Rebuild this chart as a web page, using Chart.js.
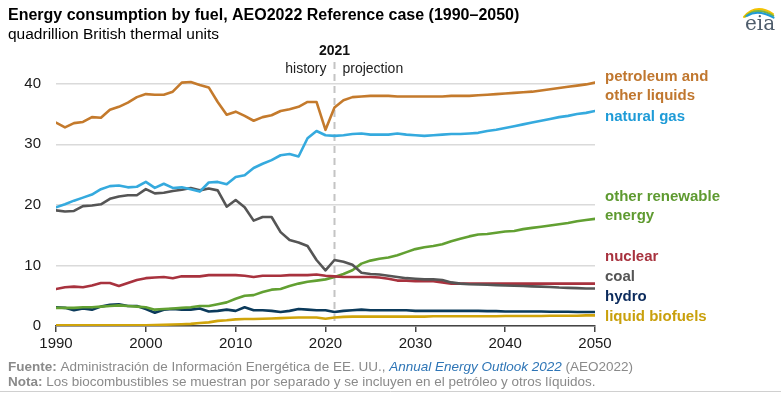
<!DOCTYPE html>
<html><head><meta charset="utf-8">
<script src="https://cdn.jsdelivr.net/npm/chart.js@4/dist/chart.umd.min.js"></script>
<style>html,body{margin:0;padding:0;background:#fff;}#wrap{position:relative;width:781px;height:393px;}</style>
</head><body><div id="wrap"><canvas id="c" width="781" height="393"></canvas></div>
<script>
const years = [1990,1991,1992,1993,1994,1995,1996,1997,1998,1999,2000,2001,2002,2003,2004,2005,2006,2007,2008,2009,2010,2011,2012,2013,2014,2015,2016,2017,2018,2019,2020,2021,2022,2023,2024,2025,2026,2027,2028,2029,2030,2031,2032,2033,2034,2035,2036,2037,2038,2039,2040,2041,2042,2043,2044,2045,2046,2047,2048,2049,2050];
const xTicks = [1990,2000,2010,2020,2030,2040,2050];
const yTicks = [0,10,20,30,40];
const petroleum = [33.6,32.8,33.5,33.7,34.5,34.4,35.7,36.2,36.9,37.8,38.3,38.2,38.2,38.7,40.2,40.3,39.8,39.4,37.0,34.9,35.4,34.7,33.9,34.5,34.8,35.5,35.8,36.2,37.0,37.0,32.4,36.1,37.3,37.8,37.9,38.0,38.0,38.0,37.9,37.9,37.9,37.9,37.9,37.9,38.0,38.0,38.0,38.1,38.2,38.3,38.4,38.5,38.6,38.7,38.9,39.1,39.3,39.5,39.7,39.9,40.2];
const naturalGas = [19.6,20.1,20.7,21.2,21.7,22.6,23.1,23.2,22.9,23.0,23.8,22.8,23.5,22.8,22.9,22.6,22.2,23.7,23.8,23.4,24.6,24.9,26.1,26.8,27.4,28.2,28.4,28.0,31.0,32.2,31.5,31.4,31.5,31.7,31.8,31.6,31.6,31.6,31.8,31.6,31.5,31.4,31.5,31.6,31.7,31.7,31.8,31.9,32.2,32.4,32.7,33.0,33.3,33.6,33.9,34.2,34.5,34.7,35.0,35.2,35.5];
const coal = [19.1,18.9,19.0,19.8,19.9,20.1,21.0,21.4,21.6,21.6,22.6,21.9,22.0,22.3,22.5,22.8,22.4,22.7,22.4,19.7,20.8,19.6,17.4,18.0,18.0,15.5,14.2,13.8,13.2,10.9,9.2,10.9,10.6,10.1,8.8,8.6,8.5,8.3,8.1,7.9,7.8,7.7,7.7,7.6,7.2,7.0,6.9,6.85,6.8,6.75,6.7,6.65,6.6,6.55,6.5,6.45,6.35,6.3,6.25,6.2,6.2];
const nuclear = [6.1,6.4,6.5,6.4,6.7,7.1,7.1,6.6,7.1,7.6,7.9,8.0,8.1,7.9,8.2,8.2,8.2,8.4,8.4,8.4,8.4,8.3,8.1,8.3,8.3,8.3,8.4,8.4,8.4,8.5,8.3,8.2,8.1,8.1,8.1,8.1,8.0,7.8,7.5,7.5,7.4,7.4,7.4,7.2,7.0,7.0,7.0,7.0,7.0,7.0,7.0,7.0,7.0,7.0,7.0,7.0,7.0,7.0,7.0,7.0,7.0];
const renewables = [3.0,3.0,3.0,3.1,3.1,3.2,3.3,3.4,3.3,3.2,3.1,2.7,2.8,2.9,3.0,3.1,3.3,3.3,3.6,3.9,4.5,5.0,5.1,5.6,6.0,6.1,6.6,7.0,7.3,7.5,7.7,8.1,8.6,9.2,10.3,10.8,11.1,11.3,11.7,12.2,12.7,13.0,13.2,13.5,14.0,14.4,14.8,15.1,15.2,15.4,15.6,15.7,16.0,16.2,16.4,16.6,16.8,17.0,17.3,17.5,17.7];
const hydro = [3.1,3.0,2.6,2.9,2.7,3.2,3.5,3.6,3.3,3.3,2.8,2.2,2.7,2.8,2.7,2.7,2.9,2.4,2.5,2.7,2.5,3.1,2.6,2.6,2.5,2.3,2.5,2.8,2.7,2.6,2.6,2.3,2.5,2.6,2.7,2.6,2.6,2.6,2.6,2.6,2.5,2.5,2.5,2.5,2.5,2.5,2.5,2.5,2.45,2.45,2.4,2.4,2.4,2.4,2.4,2.35,2.35,2.35,2.3,2.3,2.3];
const biofuels = [0.1,0.1,0.1,0.1,0.1,0.1,0.1,0.1,0.1,0.1,0.1,0.15,0.2,0.25,0.3,0.35,0.5,0.6,0.85,0.95,1.1,1.15,1.15,1.2,1.25,1.3,1.35,1.4,1.4,1.4,1.2,1.4,1.5,1.55,1.55,1.55,1.55,1.55,1.55,1.55,1.55,1.55,1.6,1.6,1.6,1.6,1.6,1.6,1.6,1.6,1.65,1.65,1.65,1.65,1.65,1.7,1.7,1.7,1.7,1.75,1.75];
const seriesNames = ['petroleum and other liquids','natural gas','coal','nuclear','other renewable energy','hydro','liquid biofuels'];
const splitYear = 2021;

const styles = [
  {data: petroleum, color:'#c47a2c', label:['petroleum and','other liquids'], labelColor:'#c0772f', ly:[77,96]},
  {data: naturalGas, color:'#35aade', label:['natural gas'], labelColor:'#1e9bd7', ly:[117]},
  {data: coal, color:'#555555', label:['coal'], labelColor:'#555555', ly:[277]},
  {data: nuclear, color:'#a8323e', label:['nuclear'], labelColor:'#a8323e', ly:[257]},
  {data: renewables, color:'#62a032', label:['other renewable','energy'], labelColor:'#5e9a30', ly:[197,216]},
  {data: hydro, color:'#0b3a5b', label:['hydro'], labelColor:'#0b2a5c', ly:[297]},
  {data: biofuels, color:'#d0a40a', label:['liquid biofuels'], labelColor:'#c9a00c', ly:[317]}
];

const FONT = '"Liberation Sans", Arial, sans-serif';

const annot = {
  id:'annot',
  beforeDatasetsDraw(chart){
    const ctx = chart.ctx, xs = chart.scales.x, a = chart.chartArea;
    const x = Math.round(xs.getPixelForValue(splitYear)) + 0.5;
    ctx.save();
    ctx.strokeStyle = '#c4c4c4'; ctx.lineWidth = 2; ctx.setLineDash([7,5]);
    ctx.beginPath(); ctx.moveTo(x, a.top); ctx.lineTo(x, a.bottom); ctx.stroke();
    ctx.restore();
  },
  afterDraw(chart){
    const ctx = chart.ctx, xs = chart.scales.x;
    const x = xs.getPixelForValue(splitYear);
    ctx.save();
    ctx.textBaseline = 'alphabetic';
    ctx.fillStyle = '#000'; ctx.textAlign = 'left';
    ctx.font = 'bold 16px ' + FONT;
    ctx.fillText('Energy consumption by fuel, AEO2022 Reference case (1990\u20132050)', 8, 20);
    ctx.font = '15.5px ' + FONT;
    ctx.fillText('quadrillion British thermal units', 8, 39);
    ctx.textAlign = 'center'; ctx.font = 'bold 14px ' + FONT; ctx.fillStyle = '#111';
    ctx.fillText(String(splitYear), x, 55);
    ctx.font = '14px ' + FONT; ctx.fillStyle = '#222';
    ctx.textAlign = 'right'; ctx.fillText('history', x - 8, 73);
    ctx.textAlign = 'left'; ctx.fillText('projection', x + 8, 73);
    ctx.font = 'bold 15px ' + FONT; ctx.textBaseline = 'middle';
    styles.forEach(s => {
      ctx.fillStyle = s.labelColor;
      s.label.forEach((t,i) => ctx.fillText(t, 605, s.ly[i]));
    });
    ctx.textBaseline = 'alphabetic';
    const gray = '#8a8a8a';
    function seg(parts, y){
      let cx = 8;
      parts.forEach(p => {
        ctx.font = p[1] + ' 13.5px ' + FONT; ctx.fillStyle = p[2] || gray;
        ctx.fillText(p[0], cx, y); cx += ctx.measureText(p[0]).width;
      });
    }
    seg([['Fuente:','bold'],[' Administración de Información Energética de EE. UU., ','normal'],['Annual Energy Outlook 2022','italic','#2e75b6'],[' (AEO2022)','normal']], 371);
    seg([['Nota:','bold'],[' Los biocombustibles se muestran por separado y se incluyen en el petróleo y otros líquidos.','normal']], 386);
    ctx.strokeStyle = '#d0d0d0'; ctx.lineWidth = 1;
    ctx.beginPath(); ctx.moveTo(0, 391.5); ctx.lineTo(781, 391.5); ctx.stroke();
    ctx.lineWidth = 2; ctx.lineCap = 'round';
    const arcs = [['#f2c200',0],['#7ab342',3],['#1f9ad6',6]];
    arcs.forEach(([c,o]) => {
      ctx.strokeStyle = c; ctx.beginPath();
      ctx.moveTo(744 + o*0.5, 17 - o*0.2);
      ctx.quadraticCurveTo(756 + o*0.3, 3 + o, 773 + o*0.1, 14 + o*0.6);
      ctx.stroke();
    });
    ctx.font = '20px "DejaVu Serif", "Liberation Serif", serif'; ctx.fillStyle = '#4f5d6c';
    ctx.textAlign = 'left'; ctx.fillText('eia', 745, 30);
    ctx.restore();
  }
};

new Chart(document.getElementById('c'), {
  type:'line',
  data:{
    datasets: styles.map((s,i) => ({
      label: seriesNames[i],
      data: years.map((y,j) => ({x:y, y:s.data[j]})),
      borderColor: s.color, backgroundColor: s.color,
      borderWidth: 2.6, pointRadius: 0, tension: 0, fill:false,
      borderJoinStyle:'round', borderCapStyle:'round'
    }))
  },
  options:{
    responsive:false, animation:false, devicePixelRatio:1,
    layout:{padding:{top:62, right:186, bottom:0, left:0}},
    plugins:{legend:{display:false}, tooltip:{enabled:false}},
    scales:{
      x:{type:'linear', min:1990, max:2050,
        afterBuildTicks: sc => { sc.ticks = xTicks.map(v => ({value:v})); },
        afterFit: sc => { sc.height = 67; },
        ticks:{font:{family:FONT, size:15}, color:'#1a1a1a', padding:3, callback:v => String(v)},
        grid:{drawOnChartArea:false, drawTicks:true, tickLength:6, color:'#444', lineWidth:1.5},
        border:{display:true, color:'#444', width:1.5}
      },
      y:{type:'linear', min:0, max:43.6,
        afterBuildTicks: sc => { sc.ticks = yTicks.map(v => ({value:v})); },
        afterFit: sc => { sc.width = 56; },
        ticks:{font:{family:FONT, size:15}, color:'#1a1a1a', padding:15},
        grid:{color:'#dadada', lineWidth:1.5, drawTicks:false},
        border:{display:false}
      }
    }
  },
  plugins:[annot]
});
</script></body></html>
